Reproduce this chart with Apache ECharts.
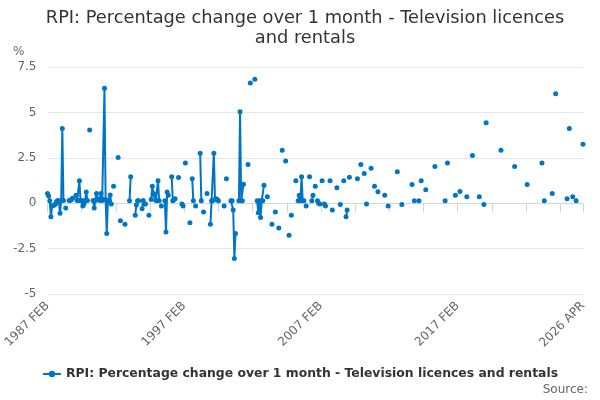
<!DOCTYPE html>
<html>
<head>
<meta charset="utf-8">
<script src="https://cdn.jsdelivr.net/npm/echarts@6/dist/echarts.min.js"></script>
<style>
  html, body { margin: 0; padding: 0; background: #fff; }
  #main { width: 600px; height: 400px; }
</style>
</head>
<body>
<div id="main"></div>
<script>
// month names used in the axis labels
var monthNames = ['JAN', 'FEB', 'MAR', 'APR', 'MAY', 'JUN', 'JUL', 'AUG', 'SEP', 'OCT', 'NOV', 'DEC'];

// first month of each run of consecutive observations
var runStarts = [
    '1987 FEB', '1988 JUN', '1988 SEP', '1989 MAR', '1990 MAR', '1990 JUN', '1991 DEC', '1992 APR',
    '1992 JUN', '1992 OCT', '1993 FEB', '1993 JUL', '1994 JAN', '1994 JUL', '1994 SEP', '1995 JUN',
    '1995 SEP', '1996 MAR', '1996 SEP', '1996 DEC', '1997 MAR', '1997 JUL', '1997 SEP', '1997 DEC',
    '1998 APR', '1998 JUL', '1998 OCT', '1999 JAN', '2000 JAN', '2000 MAR', '2000 JUL', '2001 FEB',
    '2001 OCT', '2001 DEC', '2002 APR', '2002 JUN', '2003 MAR', '2003 JUL', '2003 OCT', '2004 JAN',
    '2004 APR', '2004 JUL', '2004 OCT', '2004 DEC', '2005 APR', '2005 JUN', '2006 JAN', '2006 APR',
    '2006 JUN', '2006 SEP', '2006 NOV', '2007 MAR', '2007 MAY', '2007 OCT', '2007 DEC', '2008 APR',
    '2008 JUL', '2008 OCT', '2008 DEC', '2009 MAR', '2009 OCT', '2010 JAN', '2010 APR', '2010 JUN',
    '2010 OCT', '2011 JAN', '2011 APR', '2011 OCT', '2012 JAN', '2012 SEP', '2013 JAN', '2013 OCT',
    '2013 DEC', '2014 APR', '2014 JUN', '2014 OCT', '2015 JUN', '2016 MAR', '2016 MAY', '2016 DEC',
    '2017 APR', '2017 OCT', '2018 MAR', '2018 SEP', '2019 JAN', '2019 MAR', '2020 APR', '2021 APR',
    '2022 MAR', '2023 APR', '2023 JUN', '2024 JAN', '2024 APR', '2025 FEB', '2025 APR', '2025 JUL',
    '2025 OCT', '2026 APR'
];

// monthly % change for each run
var runValues = [
    [0.53, 0.39, 0.13, -0.75, -0.15, -0.12, -0.1, -0.05, 0.1, 0.15, 0.1, -0.55, 0.15, 4.12, 0.15],
    [-0.26],
    [0.15, 0.15, 0.2, 0.27],
    [0.44, 0.15, 0.15, 1.23, 0.15, 0.15, -0.15, -0.05, 0.15, 0.62, 0.15],
    [4.03],
    [0.15, -0.26, 0.15, 0.53, 0.2, 0.25, 0.15, 0.53, 0.15, 0.2, 6.33, 0.2, -1.67, 0.1, 0.15, 0.45, -0.05],
    [0.93],
    [2.52],
    [-0.96],
    [-1.16],
    [0.13, 1.45],
    [-0.66, -0.1, 0.13, 0.13],
    [-0.3, 0.15, -0.05, -0.05],
    [-0.66],
    [0.2, 0.93, 0.53, 0.44, 0.16, 0.13, 1.23, 0.13],
    [-0.16],
    [0.13, -1.58, 0.62, 0.44],
    [1.45, 0.13, 0.2, 0.25],
    [1.42],
    [-0.05, -0.16],
    [2.22],
    [-1.07],
    [1.34, 0.13],
    [-0.16],
    [2.75, 0.13],
    [-0.48],
    [0.53],
    [-1.16, 0.13, 0.13, 2.75, 0.2, 0.25, 0.2, 0.13],
    [-0.16],
    [1.34],
    [0.13, 0.13, -0.37, -3.05, -1.67],
    [0.13, 5.04, 0.13, 0.13, 1.05],
    [2.13],
    [6.62],
    [6.82],
    [0.13, -0.53, 0.13, -0.79, 0.13, 0.13, 0.99],
    [0.35],
    [-1.16],
    [-0.48],
    [-1.36],
    [2.92],
    [2.33],
    [-1.77],
    [-0.66],
    [1.23],
    [0.13, 0.44, 0.13, 1.45, 0.13, 0.13],
    [-0.16],
    [1.45],
    [0.13, 0.44],
    [0.93],
    [0.13, 0.0, -0.05],
    [1.23],
    [-0.05, -0.16],
    [1.23],
    [-0.37],
    [0.85],
    [-0.07],
    [1.23],
    [-0.75, -0.37],
    [1.43],
    [1.34],
    [2.13],
    [1.64],
    [-0.05],
    [1.93],
    [0.93],
    [0.63],
    [0.44],
    [-0.16],
    [1.73],
    [-0.07],
    [1.03],
    [0.13],
    [0.13],
    [1.23],
    [0.74],
    [2.02],
    [0.13],
    [2.22],
    [0.44],
    [0.64],
    [0.35],
    [2.63],
    [0.35],
    [-0.07],
    [4.43],
    [2.92],
    [2.02],
    [1.03],
    [2.22],
    [0.13],
    [0.53],
    [6.03],
    [0.24],
    [4.12],
    [0.35],
    [0.13],
    [3.24]
];

// every month on the axis, 1987 FEB .. 2026 APR
var categories = [];
for (var y = 1987; y <= 2026; y++) {
    for (var m = 0; m < 12; m++) {
        if (y === 1987 && m < 1) continue;
        if (y === 2026 && m > 3) break;
        categories.push(y + ' ' + monthNames[m]);
    }
}

var seriesData = categories.map(function () { return null; });
runStarts.forEach(function (start, r) {
    var pos = categories.indexOf(start);
    runValues[r].forEach(function (v, k) {
        seriesData[pos + k] = v;
    });
});

var lastIdx = categories.length - 1;
var blue = '#0075c4';

var myChart = echarts.init(document.getElementById('main'));

myChart.setOption({
    animation: false,
    textStyle: { fontFamily: 'DejaVu Sans' },
    title: {
        text: 'RPI: Percentage change over 1 month - Television licences\nand rentals',
        left: 300,
        top: 3,
        textAlign: 'center',
        textStyle: {
            fontSize: 17.8,
            fontWeight: 'normal',
            color: '#333',
            lineHeight: 20
        }
    },
    graphic: [
        {
            type: 'text',
            left: 13,
            top: 46,
            style: { text: '%', fontSize: 12, fill: '#666', fontFamily: 'DejaVu Sans' }
        },
        {
            type: 'text',
            right: 12,
            top: 384,
            style: { text: 'Source:', fontSize: 12, fill: '#666', fontFamily: 'DejaVu Sans' }
        }
    ],
    legend: {
        bottom: 15,
        left: 'center',
        itemWidth: 18,
        itemHeight: 8,
        itemGap: 10,
        textStyle: { fontSize: 12.4, fontWeight: 'bold', color: '#333' },
        data: ['RPI: Percentage change over 1 month - Television licences and rentals']
    },
    grid: {
        left: 47.5,
        right: 17,
        top: 67,
        bottom: 106
    },
    xAxis: {
        type: 'category',
        data: categories,
        boundaryGap: false,
        axisLine: { lineStyle: { color: '#ccd6eb', width: 1 } },
        axisTick: {
            length: 9,
            lineStyle: { color: '#ccd6eb' },
            interval: function (i) { return i % 30 === 0 || i === lastIdx; }
        },
        axisLabel: {
            rotate: 45,
            color: '#666',
            fontSize: 12,
            margin: 10,
            interval: function (i) { return i % 120 === 0 || i === lastIdx; }
        },
        splitLine: { show: false }
    },
    yAxis: {
        type: 'value',
        min: -5,
        max: 7.5,
        interval: 2.5,
        axisLine: { show: false },
        axisTick: { show: false },
        axisLabel: { color: '#666', fontSize: 12, margin: 11 },
        splitLine: { lineStyle: { color: '#e6e6e6' } }
    },
    series: [
        {
            name: 'RPI: Percentage change over 1 month - Television licences and rentals',
            type: 'line',
            data: seriesData,
            connectNulls: false,
            symbol: 'circle',
            symbolSize: 5,
            showSymbol: true,
            showAllSymbol: true,
            itemStyle: { color: blue },
            lineStyle: { color: blue, width: 2 }
        }
    ]
});
</script>
</body>
</html>
